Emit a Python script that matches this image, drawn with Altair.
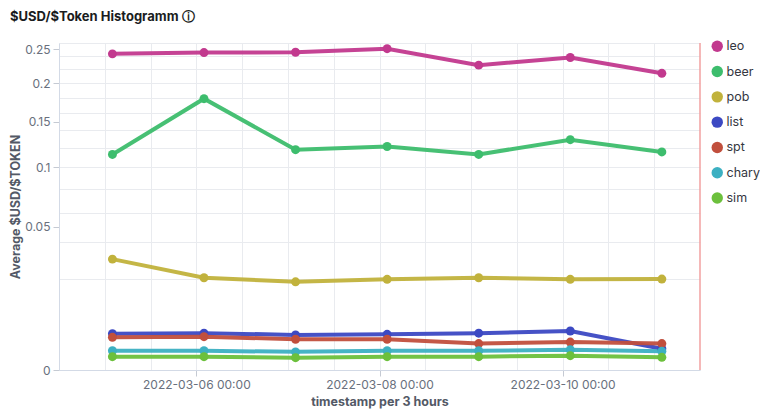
import json
import altair as alt
import pandas as pd

TITLE = "$USD/$Token Histogramm ⓘ"
DATES = [
    "2022-03-05T02:00:00", "2022-03-06T02:00:00", "2022-03-07T02:00:00",
    "2022-03-08T02:00:00", "2022-03-09T02:00:00", "2022-03-10T02:00:00",
    "2022-03-11T02:00:00",
]
TOKENS = ["leo", "beer", "pob", "list", "spt", "chary", "sim"]
LEO = [0.243, 0.245, 0.2455, 0.251, 0.226, 0.2375, 0.214]
BEER = [0.113, 0.179, 0.118, 0.1215, 0.113, 0.129, 0.1156]
POB = [0.0299, 0.0207, 0.0189, 0.0200, 0.0207, 0.0200, 0.0201]
LIST = [0.0032, 0.0033, 0.0030, 0.0031, 0.0033, 0.0037, 0.0011]
SPT = [0.0026, 0.0027, 0.0023, 0.0023, 0.0017, 0.0019, 0.0017]
CHARY = [0.0009, 0.0009, 0.0008, 0.0009, 0.0009, 0.0010, 0.00085]
SIM = [0.00043, 0.00043, 0.00037, 0.00043, 0.00043, 0.0005, 0.00039]
COLORS = ["#c2398e", "#3dbd6d", "#c1b23c", "#3c49c3", "#c14f3d", "#3cb0c2", "#6cc03c"]
Y_GRID = [0, 0.02, 0.04, 0.06, 0.08, 0.1, 0.12, 0.14, 0.16, 0.18, 0.2, 0.22, 0.24, 0.26]
Y_LABELS = [0, 0.05, 0.1, 0.15, 0.2, 0.25]
END_MARK = ["2022-03-11T12:00:00"]

rows = []
for tok, vals in zip(TOKENS, [LEO, BEER, POB, LIST, SPT, CHARY, SIM]):
    for d, v in zip(DATES, vals):
        rows.append({"timestamp": d, "token": tok, "value": v})
df = pd.DataFrame(rows)

# x-axis: grid every 12 hours, labels every two days
x_values = []
for day in range(4, 12):
    for h in (0, 12):
        if (day == 4 and h == 0) or (day == 11 and h == 12):
            continue
        x_values.append(alt.DateTime(year=2022, month=3, date=day, hours=h))
x_label_test = "hours(datum.value) == 0 && date(datum.value) % 2 == 0"

y_values = sorted(set(Y_GRID) | set(Y_LABELS))
y_grid_test = f"indexof({json.dumps(Y_GRID)}, datum.value) >= 0"
y_label_test = f"indexof({json.dumps(Y_LABELS)}, datum.value) >= 0"

GRID = "#e9ebef"
LABEL = "#69707d"

x_enc = alt.X(
    "timestamp:T",
    title="timestamp per 3 hours",
    scale=alt.Scale(domain=[alt.DateTime(year=2022, month=3, date=4, hours=12),
                            alt.DateTime(year=2022, month=3, date=11, hours=12)]),
    axis=alt.Axis(
        values=x_values,
        labelExpr=f"({x_label_test}) ? timeFormat(datum.value, '%Y-%m-%d %H:%M') : ''",
        tickOpacity={"condition": {"test": x_label_test, "value": 1}, "value": 0},
        gridColor=GRID, domainColor="#d3dae6", tickColor="#c5cad3",
        tickSize=6, labelPadding=3, labelColor=LABEL, labelFontSize=12,
        titleColor="#535966", titleFontSize=12.5, titleFontWeight="bold", titlePadding=5,
        labelFlush=False,
    ),
)

y_enc = alt.Y(
    "value:Q",
    title="Average $USD/$TOKEN",
    scale=alt.Scale(type="sqrt", domain=[0, 0.26], nice=False),
    axis=alt.Axis(
        values=y_values,
        labelExpr=f"({y_label_test}) ? format(datum.value, '~g') : ''",
        gridOpacity={"condition": {"test": y_grid_test, "value": 1}, "value": 0},
        tickOpacity={"condition": {"test": y_label_test, "value": 1}, "value": 0},
        gridColor=GRID, domainColor="#d3dae6", tickColor="#c5cad3",
        tickSize=6, labelPadding=3, labelColor=LABEL, labelFontSize=12,
        titleColor="#535966", titleFontSize=12.5, titleFontWeight="bold", titlePadding=2,
        labelFlush=False,
    ),
)

color_enc = alt.Color(
    "token:N",
    scale=alt.Scale(domain=TOKENS, range=COLORS),
    legend=alt.Legend(
        title=None, orient="none", legendX=652, legendY=-3,
        symbolType="circle", symbolSize=130, symbolStrokeWidth=0, symbolOpacity=1,
        labelFontSize=12.5, labelColor="#343741", rowPadding=12.3, labelOffset=3,
    ),
)

base = alt.Chart(df).encode(x=x_enc, y=y_enc, color=color_enc)
lines = base.mark_line(strokeWidth=4, opacity=0.95)
points = base.mark_circle(size=80, opacity=1)

end_rule = alt.Chart(pd.DataFrame({"timestamp": END_MARK})).mark_rule(
    color="#f2a0a0", strokeWidth=1.5
).encode(x="timestamp:T")

chart = (
    alt.layer(lines, points, end_rule)
    .properties(
        width=641, height=327,
        autosize=alt.AutoSizeParams(type="none"),
        padding={"left": 51, "top": 35, "right": 60, "bottom": 39},
        title=alt.TitleParams(
            TITLE, anchor="start", frame="group", dx=-49, offset=16,
            fontSize=13, fontWeight="bold", color="#1a1c21",
        ),
    )
    .configure(font="Inter")
    .configure_view(stroke=None)
)

chart.save("out.html", embed_options={"renderer": "svg", "actions": False})
